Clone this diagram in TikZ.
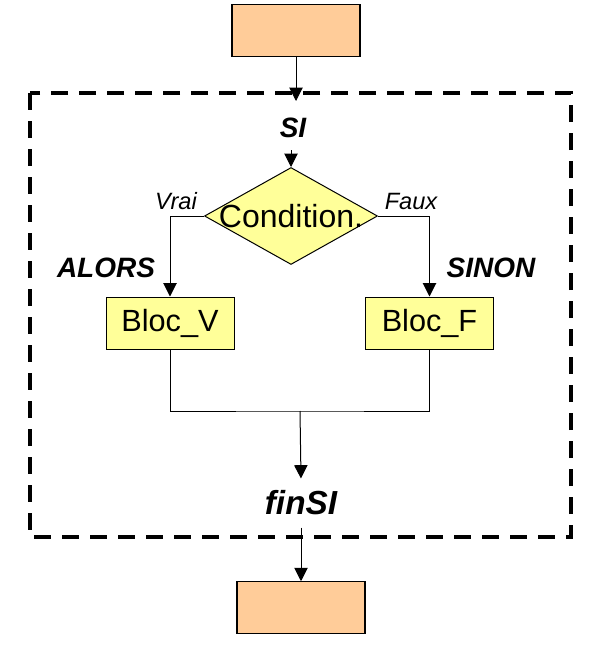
\documentclass[tikz,border=0pt]{standalone}
\usepackage{fontspec}
\setmainfont{Liberation Sans}
\usepackage{xcolor}
\usetikzlibrary{shapes.geometric,arrows.meta}
\definecolor{peach}{HTML}{FFCC99}
\definecolor{paleyellow}{HTML}{FFFF99}

\begin{document}
\begin{tikzpicture}[x=0.75pt,y=-0.75pt,
		arr/.style={line width=0.75pt,-{Triangle[width=10pt,length=10pt]}},
		wire/.style={line width=0.75pt},
		ext/.style={draw,line width=0.9pt,fill=peach,minimum width=96pt,minimum height=38.5pt,inner sep=0pt},
		bloc/.style={draw,line width=0.75pt,fill=paleyellow,minimum width=96pt,minimum height=39pt,inner sep=0pt,font=\fontsize{23}{27}\selectfont},
		test/.style={draw,diamond,line width=0.75pt,fill=paleyellow,minimum width=129.75pt,minimum height=72.75pt,inner sep=0pt},
		kw/.style={font=\bfseries\itshape\fontsize{21}{25}\selectfont,inner sep=9pt},
		branch/.style={font=\itshape\fontsize{17.7}{21}\selectfont,inner sep=0pt}]
		\useasboundingbox (0,0) rectangle (604,650);

		\draw [line width=3.5pt, dash pattern=on 13pt off 8pt] (30,93) rectangle (571,537);% frame of the SI block

		\node[ext] (top) at (296,30.5) {};
		\node[ext] (bottom) at (301,607.5) {};
		\coordinate (frametop) at (296,101);
		\coordinate (merge) at (300,411);

		\node[kw] (si) at (293,128) {SI};
		\node[test,label={[font=\fontsize{24}{28}\selectfont]center:Condition.}] (cond) at (291,216) {};
		\node[branch] (vrai) at (176,201) {Vrai};
		\node[branch] (faux) at (411,201) {Faux};
		\node[kw,inner sep=0pt] (alors) at (106,268) {ALORS};
		\node[kw,inner sep=0pt] (sinon) at (491,268) {SINON};
		\node[bloc] (blocv) at (170,323) {Bloc\_V};
		\node[bloc] (blocf) at (429.5,323) {Bloc\_F};
		\node[kw,font=\bfseries\itshape\fontsize{25}{30}\selectfont] (finsi) at (301,503) {finSI};

		\draw [arr] (top) -- (frametop);
		\draw [arr] (si.south -| cond.north) -- (cond.north);
		\draw [arr] (cond.west) -| (blocv.north);% Vrai branch
		\draw [arr] (cond.east) -| (blocf.north);% Faux branch
		\draw [wire] (blocv.south) |- (merge) -| (blocf.south);
		\draw [arr] (merge) -- (finsi.north);
		\draw [arr] (finsi.south) -- (bottom.north);
	  \end{tikzpicture}
\end{document}
